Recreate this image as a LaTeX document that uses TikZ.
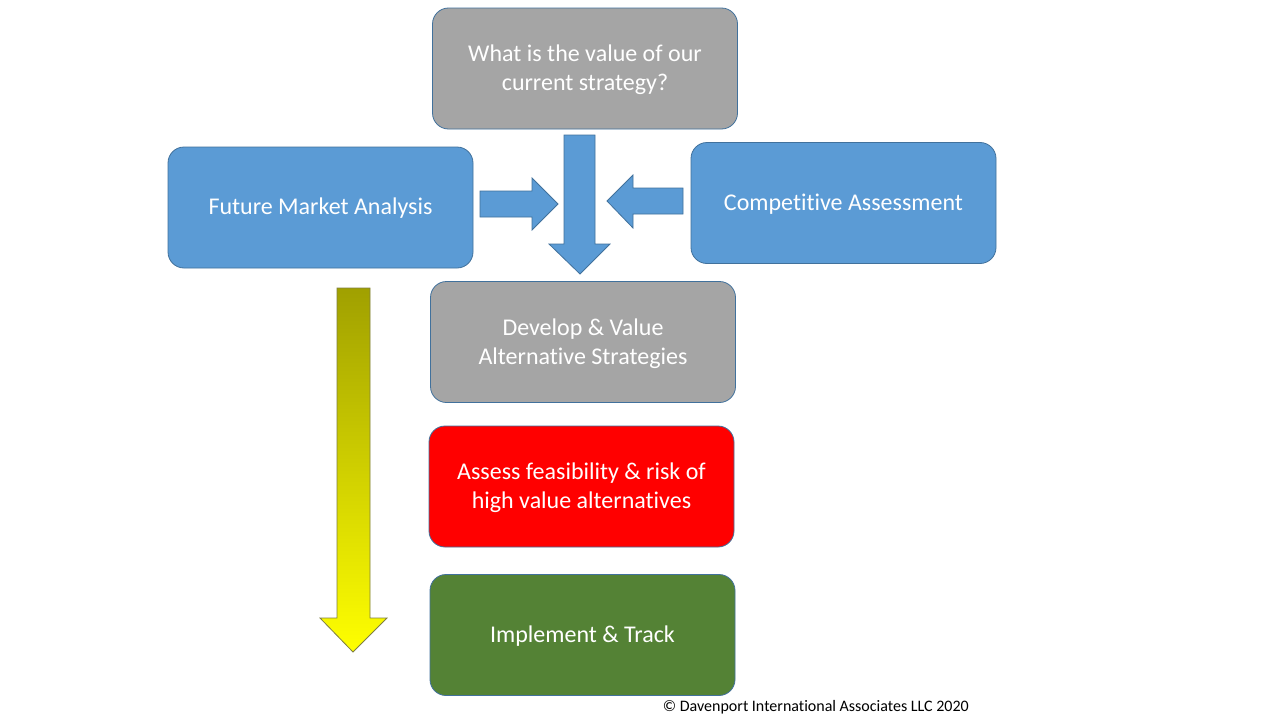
\documentclass[tikz,border=0pt]{standalone}
\usepackage{fontspec}
\setmainfont[Ligatures=NoCommon]{Carlito}
\usetikzlibrary{positioning}
\definecolor{boxgray}{HTML}{A5A5A5}
\definecolor{boxblue}{HTML}{5B9BD5}
\definecolor{boxred}{HTML}{FF0000}
\definecolor{boxgreen}{HTML}{548235}
\definecolor{edgeblue}{HTML}{41719C}
\definecolor{olive}{HTML}{A0A000}
\definecolor{oliveedge}{HTML}{7F7F3F}
\tikzset{
  card/.style={draw=edgeblue, line width=0.8pt, rounded corners=16pt, minimum width=305pt, minimum height=121pt, align=center, inner sep=0pt},
  cardtext/.style={text=white, align=center, font=\fontsize{24}{29}\selectfont, inner sep=0pt},
  blockarrow/.style={draw=edgeblue, line width=0.8pt, fill=boxblue}
}
\begin{document}
\begin{tikzpicture}[x=1pt,y=-1pt]
\useasboundingbox (0,0) rectangle (1280,720);
\fill[white] (0,0) rectangle (1280,720);
\node[card, fill=boxgray] (q) at (585,68.5) {};
\node[cardtext] (qt) at (585,70) {What is the value of our\\current strategy?};
\node[card, fill=boxblue] (fma) at (320.5,207.5) {};
\node[cardtext] (fmat) at (320.5,208.5) {Future Market Analysis};
\node[card, fill=boxblue] (ca) at (843.5,203) {};
\node[cardtext] (cat) at (843.5,204) {Competitive Assessment};
\node[card, fill=boxgray] (dev) at (583,342) {};
\node[cardtext] (devt) at (583,343.5) {Develop \& Value\\Alternative Strategies};
\node[card, fill=boxred] (risk) at (581.5,486.5) {};
\node[cardtext] (riskt) at (581.5,488) {Assess feasibility \& risk of\\high value alternatives};
\node[card, fill=boxgreen] (impl) at (582.5,635) {};
\node[cardtext] (implt) at (582.5,636) {Implement \& Track};
% down arrow
\draw[blockarrow] (564,135) -- (595,135) -- (595,244) -- (610,244) -- (580,274) -- (549,244) -- (564,244) -- cycle;
% right arrow
\draw[blockarrow] (480,191) -- (532,191) -- (532,178) -- (558,204) -- (532,230) -- (532,217) -- (480,217) -- cycle;
% left arrow
\draw[blockarrow] (683,188) -- (633,188) -- (633,175) -- (607,201) -- (633,228) -- (633,214) -- (683,214) -- cycle;
% yellow arrow
\shade[top color=olive, bottom color=yellow, draw=oliveedge, line width=0.8pt] (337,288) -- (370,288) -- (370,618) -- (387,618) -- (353,652) -- (320,618) -- (337,618) -- cycle;
\node[anchor=base east, font=\fontsize{16}{18}\selectfont, inner sep=0pt] (copy) at (969,711) {© Davenport International Associates LLC 2020};
\end{tikzpicture}
\end{document}
